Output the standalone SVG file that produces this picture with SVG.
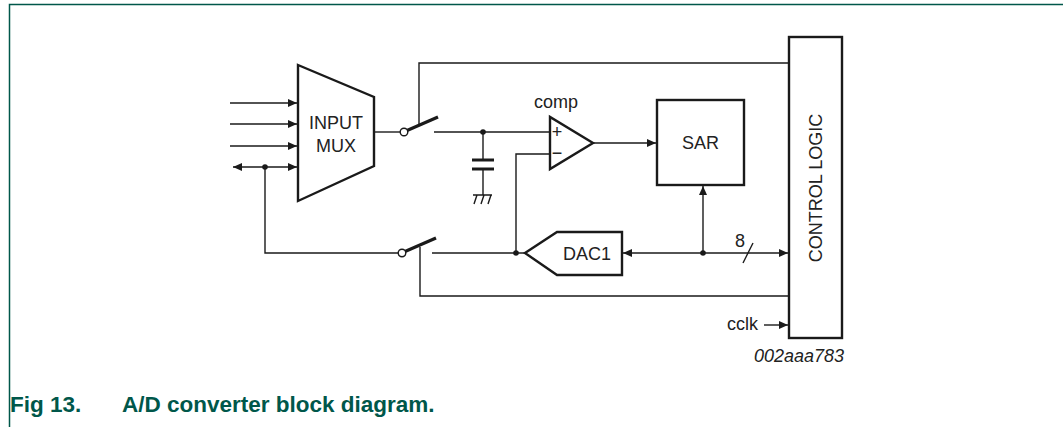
<svg xmlns="http://www.w3.org/2000/svg" width="1063" height="427" viewBox="0 0 1063 427">
<style>
.w{fill:none;stroke:#1a1a1a;stroke-width:1.4}
.b{fill:#fff;stroke:#1a1a1a;stroke-width:2.4}
.bl{fill:none;stroke:#1a1a1a;stroke-width:3.2;stroke-linecap:butt}
.t{font-family:"Liberation Sans",Arial,sans-serif;font-size:18px;fill:#222}
.dot{fill:#1a1a1a}
</style>
<defs>
<marker id="ar" markerUnits="userSpaceOnUse" markerWidth="10" markerHeight="8" refX="9" refY="4" orient="auto-start-reverse">
<path d="M0,0 L9,4 L0,8 Z" fill="#1a1a1a"/>
</marker>
</defs>
<rect width="1063" height="427" fill="#fff"/>
<path d="M9.5,427 V4.5 H1063" fill="none" stroke="#00574a" stroke-width="1.5"/>
<text y="412" font-family="Liberation Sans,Arial,sans-serif" font-weight="bold" font-size="22.5" fill="#00574a"><tspan x="10">Fig 13.</tspan><tspan x="122">A/D converter block diagram.</tspan></text>

<g id="connectors">
<line class="w" x1="230" y1="103" x2="297" y2="103" marker-end="url(#ar)"/>
<line class="w" x1="230" y1="124" x2="297" y2="124" marker-end="url(#ar)"/>
<line class="w" x1="230" y1="146" x2="297" y2="146" marker-end="url(#ar)"/>
<line class="w" x1="233" y1="167" x2="297" y2="167" marker-start="url(#ar)" marker-end="url(#ar)"/>
<circle class="dot" cx="265" cy="167" r="2.8"/>
<polyline class="w" points="265,167 265,253 398,253"/>
<line class="w" x1="374" y1="132" x2="400" y2="132"/>
<line class="w" x1="434" y1="132" x2="550" y2="132"/>
<circle class="dot" cx="483" cy="132" r="2.8"/>
<line class="w" x1="483" y1="132" x2="483" y2="160"/>
<line class="w" x1="483" y1="169" x2="483" y2="195"/>
<line x1="472" y1="160" x2="494" y2="160" stroke="#1a1a1a" stroke-width="3"/>
<line x1="472" y1="169" x2="494" y2="169" stroke="#1a1a1a" stroke-width="3"/>
<path class="w" d="M473,195 H492 M477,195 L474,204 M484,195 L481,204 M491,195 L488,204"/>
<polyline class="w" points="419,124 419,63 789,63"/>
<polyline class="w" points="550,154 516,154 516,253"/>
<circle class="dot" cx="516" cy="253" r="2.8"/>
<line class="w" x1="432" y1="253" x2="525" y2="253"/>
<polyline class="w" points="420,247 420,296 789,296"/>
<line class="w" x1="593" y1="143" x2="656" y2="143" marker-end="url(#ar)"/>
<line class="w" x1="623" y1="253" x2="788" y2="253" marker-start="url(#ar)" marker-end="url(#ar)"/>
<circle class="dot" cx="703" cy="253" r="2.8"/>
<line class="w" x1="703" y1="253" x2="703" y2="186" marker-end="url(#ar)"/>
<line class="w" x1="743" y1="263" x2="753" y2="243"/>
<text class="t" x="740" y="247" text-anchor="middle" font-size="15">8</text>
<line class="w" x1="764" y1="325" x2="788" y2="325" marker-end="url(#ar)"/>
<text class="t" x="758" y="330" text-anchor="end">cclk</text>
</g>

<g id="mux">
<polygon class="b" points="298,65 374,97 374,166 298,201"/>
<text class="t" x="336" y="129" text-anchor="middle">INPUT</text>
<text class="t" x="336" y="151.5" text-anchor="middle">MUX</text>
</g>
<g id="switch1">
<line class="bl" x1="407" y1="130.5" x2="438" y2="117"/>
<circle cx="404" cy="132" r="3.8" fill="#fff" stroke="#1a1a1a" stroke-width="1.4"/>
</g>
<g id="switch2">
<line class="bl" x1="405" y1="251.5" x2="436" y2="238"/>
<circle cx="402" cy="253" r="3.8" fill="#fff" stroke="#1a1a1a" stroke-width="1.4"/>
</g>
<g id="comp">
<polygon class="b" points="550,117 550,169 593,143"/>
<text class="t" x="557" y="138" text-anchor="middle" font-size="14">+</text>
<text class="t" x="557" y="159" text-anchor="middle" font-size="14">−</text>
<text class="t" x="556" y="108" text-anchor="middle">comp</text>
</g>
<g id="sar">
<rect class="b" x="657" y="100" width="87" height="85"/>
<text class="t" x="700.5" y="149" text-anchor="middle">SAR</text>
</g>
<g id="dac">
<polygon class="b" points="525,253 557,232 622,232 622,275 557,275"/>
<text class="t" x="587" y="260" text-anchor="middle">DAC1</text>
</g>
<g id="control">
<rect class="b" x="789" y="37" width="53" height="301"/>
<text class="t" transform="translate(822,188) rotate(-90)" text-anchor="middle">CONTROL LOGIC</text>
</g>
<text class="t" x="844" y="362" text-anchor="end" font-style="italic" font-size="15">002aaa783</text>
</svg>
